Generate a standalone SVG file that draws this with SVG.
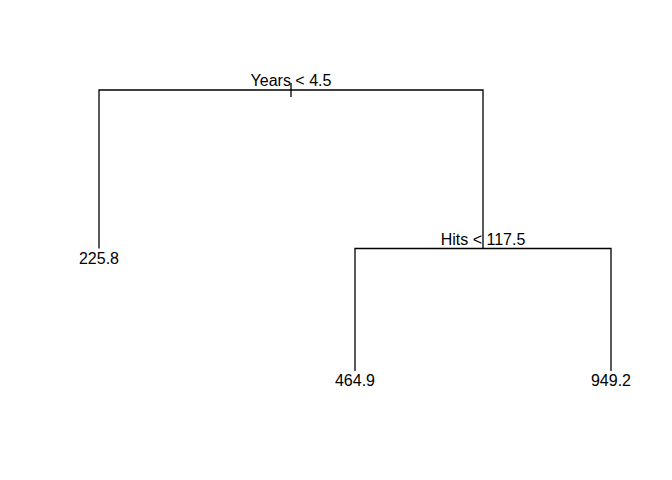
<svg xmlns="http://www.w3.org/2000/svg" width="672" height="480" viewBox="0 0 672 480">
<style>
.e{stroke:#000;stroke-width:1.3;fill:none;stroke-linecap:butt}
text{font-family:"Liberation Sans",Arial,sans-serif;font-size:16px;fill:#000;text-anchor:middle}
</style>
<rect width="672" height="480" fill="#fff"/>
<g id="connectors">
<path class="e" d="M291,83V97"/>
<path class="e" d="M99,248.5V90H483V248.5"/>
<path class="e" d="M355,371V248.5H611V371"/>
</g>
<g id="n_root"><text x="291" y="86">Years &lt; 4.5</text></g>
<g id="n_hits"><text x="483" y="245">Hits &lt; 117.5</text></g>
<g id="leaf1"><text x="99" y="264">225.8</text></g>
<g id="leaf2"><text x="355" y="386">464.9</text></g>
<g id="leaf3"><text x="611" y="386">949.2</text></g>
</svg>
